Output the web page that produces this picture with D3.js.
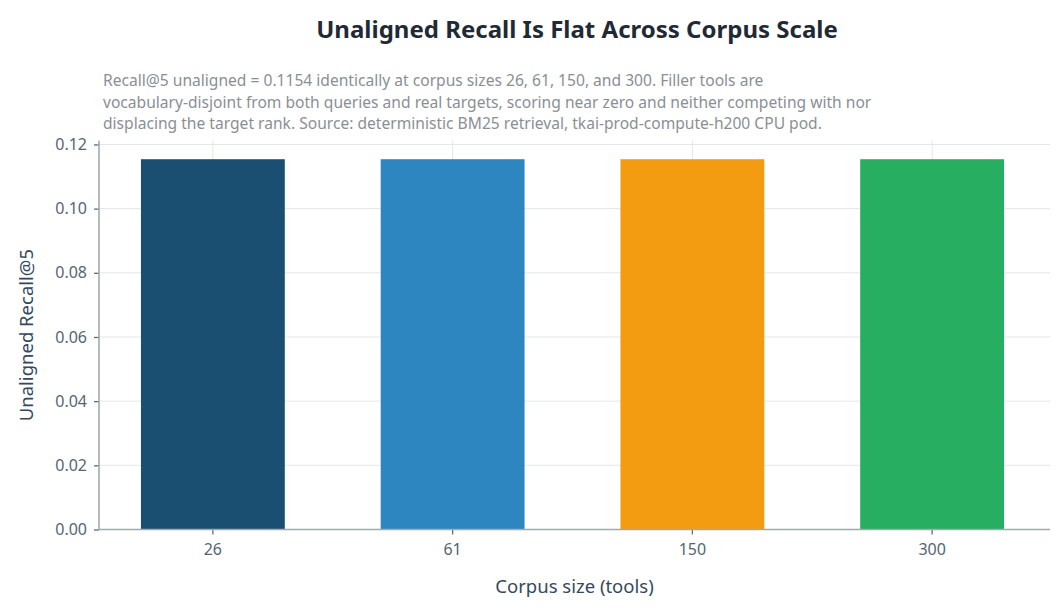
<!DOCTYPE html>
<html>
<head>
<meta charset="utf-8">
<script src="https://cdn.jsdelivr.net/npm/d3@7"></script>
<style>
  body { margin: 0; background: #fff; }
  svg text { font-family: "Noto Sans", sans-serif; }
</style>
</head>
<body>
<div id="chart"></div>
<script>
var aSizes = ["26", "61", "150", "300"];
var aRecall = [0.1154, 0.1154, 0.1154, 0.1154];
var aColors = ["#1b4f72", "#2e86c1", "#f39c12", "#27ae60"];
var aYTicks = [0, 0.02, 0.04, 0.06, 0.08, 0.10, 0.12];

var sTitle = "Unaligned Recall Is Flat Across Corpus Scale";
var aSubtitle = [
    "Recall@5 unaligned = 0.1154 identically at corpus sizes 26, 61, 150, and 300. Filler tools are",
    "vocabulary-disjoint from both queries and real targets, scoring near zero and neither competing with nor",
    "displacing the target rank. Source: deterministic BM25 retrieval, tkai-prod-compute-h200 CPU pod."
];

var w = 1064, h = 615;
var plotLeft = 99, plotRight = 1050, plotTop = 140.7, plotBottom = 529.5;

var svg = d3.select("#chart")
    .append("svg")
    .attr("width", w)
    .attr("height", h);

var x = d3.scaleBand()
    .domain(aSizes)
    .range([93, 1052])
    .paddingInner(0.4)
    .paddingOuter(0.2);

var y = d3.scaleLinear()
    .domain([0, d3.max(aRecall) * 1.05])
    .range([plotBottom, plotTop]);

// grid
svg.append("g")
    .selectAll("line")
    .data(aYTicks)
    .enter()
    .append("line")
    .attr("x1", plotLeft)
    .attr("x2", plotRight)
    .attr("y1", function(d){ return y(d); })
    .attr("y2", function(d){ return y(d); })
    .attr("stroke", "#e3e6e8")
    .attr("stroke-width", 1);

svg.append("g")
    .selectAll("line")
    .data(aSizes)
    .enter()
    .append("line")
    .attr("x1", function(d){ return x(d) + x.bandwidth() / 2; })
    .attr("x2", function(d){ return x(d) + x.bandwidth() / 2; })
    .attr("y1", plotTop)
    .attr("y2", plotBottom)
    .attr("stroke", "#e3e6e8")
    .attr("stroke-width", 1);

// bars
svg.selectAll("rect.bar")
    .data(aRecall)
    .enter()
    .append("rect")
    .attr("class", "bar")
    .attr("x", function(d, i){ return x(aSizes[i]); })
    .attr("y", function(d){ return y(d); })
    .attr("width", x.bandwidth())
    .attr("height", function(d){ return plotBottom - y(d); })
    .attr("fill", function(d, i){ return aColors[i]; });

// axes
var yAxis = d3.axisLeft(y)
    .tickValues(aYTicks)
    .tickFormat(d3.format(".2f"))
    .tickSize(5)
    .tickPadding(7);

var gy = svg.append("g")
    .attr("transform", "translate(" + plotLeft + ",0)")
    .call(yAxis);

var xAxis = d3.axisBottom(x)
    .tickSize(5)
    .tickPadding(9);

var gx = svg.append("g")
    .attr("transform", "translate(0," + plotBottom + ")")
    .call(xAxis);

[gy, gx].forEach(function(g){
    g.select(".domain").remove();
    g.selectAll(".tick line").attr("stroke", "#5d6d7e").attr("stroke-width", 1.3);
    g.selectAll(".tick text")
        .attr("fill", "#566573")
        .attr("font-size", "16px")
        .style("font-family", "'Noto Sans', sans-serif");
});

// spines
svg.append("line")
    .attr("x1", plotLeft).attr("x2", plotLeft)
    .attr("y1", plotTop).attr("y2", plotBottom)
    .attr("stroke", "#a0aaab").attr("stroke-width", 1.6);
svg.append("line")
    .attr("x1", plotLeft).attr("x2", plotRight)
    .attr("y1", plotBottom).attr("y2", plotBottom)
    .attr("stroke", "#a0aaab").attr("stroke-width", 1.6);

// labels
svg.append("text")
    .text(sTitle)
    .attr("x", 577)
    .attr("y", 38)
    .attr("text-anchor", "middle")
    .attr("font-size", "24px")
    .attr("font-weight", "bold")
    .attr("fill", "#1f2a36");

svg.selectAll("text.sub")
    .data(aSubtitle)
    .enter()
    .append("text")
    .attr("class", "sub")
    .text(function(d){ return d; })
    .attr("x", 103)
    .attr("y", function(d, i){ return 86 + i * 21.5; })
    .attr("font-size", "15.6px")
    .attr("fill", "#8a8f94");

svg.append("text")
    .text("Unaligned Recall@5")
    .attr("transform", "translate(33," + ((plotTop + plotBottom) / 2) + ") rotate(-90)")
    .attr("text-anchor", "middle")
    .attr("font-size", "18.5px")
    .attr("fill", "#34495e");

svg.append("text")
    .text("Corpus size (tools)")
    .attr("x", (plotLeft + plotRight) / 2)
    .attr("y", 593)
    .attr("text-anchor", "middle")
    .attr("font-size", "18.5px")
    .attr("fill", "#34495e");
</script>
</body>
</html>
